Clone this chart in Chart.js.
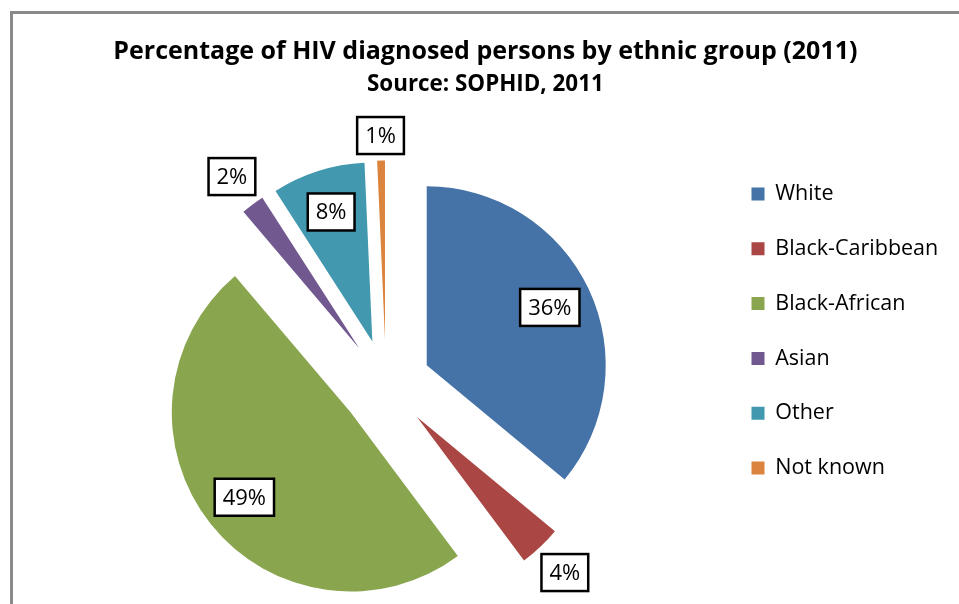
<!DOCTYPE html>
<html>
<head>
<meta charset="utf-8">
<script src="https://cdn.jsdelivr.net/npm/chart.js@4.4.1/dist/chart.umd.min.js"></script>
<style>
  html, body { margin: 0; padding: 0; background: #ffffff; }
  #wrap { position: relative; width: 959px; height: 604px; overflow: hidden; }
  #frame { position: absolute; left: 10px; top: 11px; width: 1000px; height: 700px;
           border-left: 3px solid #8a8a8a; border-top: 3px solid #8a8a8a; box-sizing: border-box; }
  canvas { position: absolute; left: 0; top: 0; }
</style>
</head>
<body>
<div id="wrap">
  <div id="frame"></div>
  <canvas id="c" width="959" height="604"></canvas>
</div>
<script>
const categories = ['White', 'Black-Caribbean', 'Black-African', 'Asian', 'Other', 'Not known'];
const percentages = [36.0, 3.8, 49.0, 2.1, 8.4, 0.7];
const sliceColors = ['#4572A7', '#AA4643', '#89A54E', '#71588F', '#4198AF', '#DB843D'];
const titleText = 'Percentage of HIV diagnosed persons by ethnic group (2011)';
const subtitleText = 'Source: SOPHID, 2011';

const FONT = '"Open Sans", Lato, sans-serif';
const EXPLODE = 45;
const LABEL_SIZE = 22;
const LEGEND_SIZE = 21.5;
const LEGEND_PAD = 2;
const LEGEND_STEP = 54.8;
const BOX_W = 13;
const BOX_X = 751.5;
const PIE_CX = 386;

// layout paddings derived from legend text width
const mctx = document.createElement('canvas').getContext('2d');
mctx.font = LEGEND_SIZE + 'px ' + FONT;
const textW = Math.max(...categories.map(c => mctx.measureText(c).width));
const legendW = LEGEND_PAD + BOX_W + LEGEND_SIZE / 2 + textW + 10;
const legendLeft = BOX_X - LEGEND_PAD;
const padRight = 959 - legendLeft - legendW;
const padLeft = 2 * PIE_CX - legendLeft;

const explodePlugin = {
  id: 'explode',
  afterDatasetsUpdate(chart) {
    const meta = chart.getDatasetMeta(0);
    meta.data.forEach(arc => {
      const mid = (arc.startAngle + arc.endAngle) / 2;
      arc.x += Math.cos(mid) * EXPLODE;
      arc.y += Math.sin(mid) * EXPLODE;
    });
  }
};

const boxLabelPlugin = {
  id: 'boxLabels',
  afterDatasetsDraw(chart) {
    const ctx = chart.ctx;
    const meta = chart.getDatasetMeta(0);
    ctx.save();
    ctx.font = LABEL_SIZE + 'px ' + FONT;
    ctx.textAlign = 'center';
    ctx.textBaseline = 'middle';
    meta.data.forEach((arc, i) => {
      const v = percentages[i];
      const text = Math.round(v) + '%';
      const mid = (arc.startAngle + arc.endAngle) / 2;
      const tw = ctx.measureText(text).width;
      const bw = tw + 16, bh = 37;
      const r = arc.outerRadius;
      const cs = Math.cos(mid), sn = Math.sin(mid);
      let d;
      if (v >= 5) d = 0.76 * r;
      else d = r + 6 + (bw / 2) * Math.abs(cs) + (bh / 2) * Math.abs(sn);
      const cx = arc.x + cs * d, cy = arc.y + sn * d;
      ctx.fillStyle = '#ffffff';
      ctx.fillRect(cx - bw / 2, cy - bh / 2, bw, bh);
      ctx.lineWidth = 2.5;
      ctx.strokeStyle = '#000000';
      ctx.strokeRect(cx - bw / 2, cy - bh / 2, bw, bh);
      ctx.fillStyle = '#000000';
      ctx.fillText(text, cx, cy + 1);
    });
    ctx.restore();
  }
};

new Chart(document.getElementById('c'), {
  type: 'pie',
  data: {
    labels: categories,
    datasets: [{
      data: percentages,
      backgroundColor: sliceColors,
      borderWidth: 0,
      radius: 179
    }]
  },
  options: {
    responsive: false,
    animation: false,
    events: [],
    layout: { padding: { left: padLeft, right: padRight, top: 0, bottom: 0 } },
    plugins: {
      tooltip: { enabled: false },
      title: {
        display: true,
        text: titleText,
        color: '#000000',
        font: { family: FONT, size: 25, weight: 'bold' },
        padding: { top: 37, bottom: 0 }
      },
      subtitle: {
        display: true,
        text: subtitleText,
        color: '#000000',
        font: { family: FONT, size: 22.4, weight: 'bold' },
        padding: { top: 4.6, bottom: 66.5 }
      },
      legend: {
        position: 'right',
        title: { display: true, text: '', font: { size: 12 }, padding: { top: 74.9, bottom: 0 } },
        labels: {
          color: '#000000',
          font: { family: FONT, size: LEGEND_SIZE, lineHeight: ((LEGEND_STEP - LEGEND_PAD) / LEGEND_SIZE) },
          boxWidth: BOX_W,
          boxHeight: 13,
          padding: LEGEND_PAD,
          generateLabels(chart) {
            const items = Chart.overrides.pie.plugins.legend.labels.generateLabels(chart);
            return items.map(it => Object.assign(it, { text: [it.text] }));
          }
        }
      }
    }
  },
  plugins: [explodePlugin, boxLabelPlugin]
});
</script>
</body>
</html>
